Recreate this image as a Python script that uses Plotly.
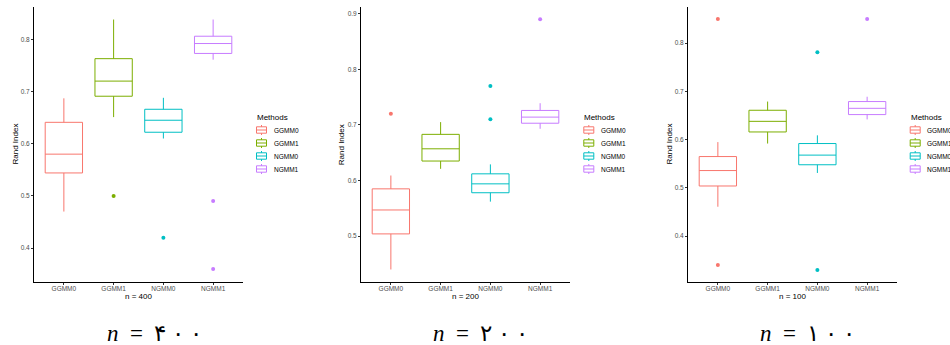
import plotly.graph_objects as go

methods = ["GGMM0", "GGMM1", "NGMM0", "NGMM1"]
colors = ["#F8766D", "#7CAE00", "#00BFC4", "#C77CFF"]

# n = 400
lower_400 = [0.470, 0.651, 0.610, 0.761]
q1_400 = [0.544, 0.691, 0.622, 0.773]
med_400 = [0.580, 0.720, 0.645, 0.792]
q3_400 = [0.641, 0.763, 0.666, 0.806]
upper_400 = [0.687, 0.838, 0.688, 0.838]
out_x_400 = ["GGMM1", "NGMM0", "NGMM1", "NGMM1"]
out_y_400 = [0.500, 0.420, 0.490, 0.360]

# n = 200
lower_200 = [0.440, 0.621, 0.562, 0.693]
q1_200 = [0.504, 0.635, 0.578, 0.703]
med_200 = [0.547, 0.657, 0.594, 0.714]
q3_200 = [0.585, 0.683, 0.612, 0.726]
upper_200 = [0.609, 0.705, 0.629, 0.739]
out_x_200 = ["GGMM0", "NGMM0", "NGMM0", "NGMM1"]
out_y_200 = [0.720, 0.770, 0.710, 0.890]

# n = 100
lower_100 = [0.461, 0.592, 0.531, 0.642]
q1_100 = [0.504, 0.616, 0.548, 0.652]
med_100 = [0.536, 0.638, 0.568, 0.665]
q3_100 = [0.565, 0.661, 0.592, 0.679]
upper_100 = [0.595, 0.679, 0.609, 0.689]
out_x_100 = ["GGMM0", "GGMM0", "NGMM0", "NGMM0", "NGMM1"]
out_y_100 = [0.850, 0.340, 0.781, 0.330, 0.850]

panels = [
    ("400", lower_400, q1_400, med_400, q3_400, upper_400, out_x_400, out_y_400, [0.335, 0.862], [0.4, 0.5, 0.6, 0.7, 0.8]),
    ("200", lower_200, q1_200, med_200, q3_200, upper_200, out_x_200, out_y_200, [0.4175, 0.912], [0.5, 0.6, 0.7, 0.8, 0.9]),
    ("100", lower_100, q1_100, med_100, q3_100, upper_100, out_x_100, out_y_100, [0.305, 0.875], [0.4, 0.5, 0.6, 0.7, 0.8]),
]
y_title = "Rand Index"
captions = [
    "<i>n</i>&nbsp;&nbsp;=&nbsp;&nbsp;۴&nbsp;۰&nbsp;۰",
    "<i>n</i>&nbsp;&nbsp;=&nbsp;&nbsp;۲&nbsp;۰&nbsp;۰",
    "<i>n</i>&nbsp;&nbsp;=&nbsp;&nbsp;۱&nbsp;۰&nbsp;۰",
]

W, H = 950, 345
x_domains_px = [(34, 243), (361, 570), (688, 897)]
plot_top, plot_bottom = 7, 282
y_domain = [1 - plot_bottom / H, 1 - plot_top / H]
ytitle_x_px = [15, 341.7, 669]
xtitle_y_px = 296
legend_left_px = [255, 582.3, 908.7]
legend_title_y = 117.3
legend_item_y = [130, 143, 156, 169]
caption_x_px = [154, 481, 807]
caption_y_px = 333


def px(x):
    return x / W


def py(y):
    return 1 - y / H


FONT = "Liberation Sans, Arial, sans-serif"
fig = go.Figure()
annotations = []
shapes = []
layout = dict(
    width=W, height=H, margin=dict(l=0, r=0, t=0, b=0),
    paper_bgcolor="white", plot_bgcolor="white", showlegend=False,
    boxmode="overlay", font=dict(family=FONT, color="black"),
)

for i, (n, lo, q1, med, q3, up, ox, oy, yr, yt) in enumerate(panels):
    sfx = "" if i == 0 else str(i + 1)
    xa, ya = "x" + sfx, "y" + sfx
    for j, m in enumerate(methods):
        fig.add_trace(go.Box(
            x=[m], q1=[q1[j]], median=[med[j]], q3=[q3[j]],
            lowerfence=[lo[j]], upperfence=[up[j]],
            name=m, width=0.75, whiskerwidth=0,
            line=dict(color=colors[j], width=1), fillcolor="white",
            boxpoints=False, xaxis=xa, yaxis=ya,
        ))
    for xv, yv in zip(ox, oy):
        fig.add_trace(go.Scatter(
            x=[xv], y=[yv], mode="markers",
            marker=dict(color=colors[methods.index(xv)], size=4),
            xaxis=xa, yaxis=ya,
        ))
    x0, x1 = x_domains_px[i]
    layout["xaxis" + sfx] = dict(
        domain=[px(x0), px(x1)], anchor=ya, type="category",
        categoryorder="array", categoryarray=methods,
        range=[-0.6, 3.6], showline=True, linecolor="black", linewidth=1,
        ticks="outside", ticklen=2, tickcolor="#333333", showgrid=False, zeroline=False,
        ticklabelstandoff=-2,
        tickfont=dict(size=6.5, color="#4D4D4D", family=FONT),
    )
    layout["yaxis" + sfx] = dict(
        domain=y_domain, anchor=xa, range=yr, tickvals=yt,
        ticktext=["%.1f" % v for v in yt],
        showline=True, linecolor="black", linewidth=1,
        ticks="outside", ticklen=2, tickcolor="#333333", showgrid=False, zeroline=False,
        tickfont=dict(size=6.5, color="#4D4D4D", family=FONT),
    )

    # axis titles
    annotations.append(dict(
        text=y_title, x=px(ytitle_x_px[i]), y=py((plot_top + plot_bottom) / 2),
        xref="paper", yref="paper", xanchor="center", yanchor="middle",
        textangle=-90, showarrow=False, font=dict(size=8, color="black", family=FONT),
    ))
    annotations.append(dict(
        text="n = " + n, x=px((x0 + x1) / 2), y=py(xtitle_y_px),
        xref="paper", yref="paper", xanchor="center", yanchor="middle",
        showarrow=False, font=dict(size=8, color="black", family=FONT),
    ))

    # ggplot-style legend
    L = legend_left_px[i]
    annotations.append(dict(
        text="Methods", x=px(L), y=py(legend_title_y), xref="paper", yref="paper",
        xanchor="left", yanchor="middle", showarrow=False,
        font=dict(size=8, color="black", family=FONT),
    ))
    for j, m in enumerate(methods):
        yc = legend_item_y[j]
        kc = L + 6.5
        shapes.append(dict(type="line", xref="paper", yref="paper",
                           x0=px(kc), x1=px(kc), y0=py(yc - 5), y1=py(yc + 5),
                           line=dict(color=colors[j], width=1)))
        shapes.append(dict(type="rect", xref="paper", yref="paper",
                           x0=px(L + 1.5), x1=px(L + 11.5), y0=py(yc - 3.2), y1=py(yc + 3.2),
                           fillcolor="white", line=dict(color=colors[j], width=1)))
        shapes.append(dict(type="line", xref="paper", yref="paper",
                           x0=px(L + 1.5), x1=px(L + 11.5), y0=py(yc), y1=py(yc),
                           line=dict(color=colors[j], width=1)))
        annotations.append(dict(
            text=m, x=px(L + 16.5), y=py(yc), xref="paper", yref="paper",
            xanchor="left", yanchor="middle", showarrow=False,
            font=dict(size=6.5, color="black", family=FONT),
        ))

    annotations.append(dict(
        text=captions[i], x=px(caption_x_px[i]), y=py(caption_y_px),
        xref="paper", yref="paper", xanchor="center", yanchor="middle",
        showarrow=False, font=dict(size=23, family="Liberation Serif, DejaVu Serif, serif", color="black"),
    ))

layout["annotations"] = annotations
layout["shapes"] = shapes
fig.update_layout(**layout)
fig.write_html(
    "out.html",
    config={"displayModeBar": False},
    post_script="document.body.style.margin='0';document.body.style.overflow='hidden';",
)
